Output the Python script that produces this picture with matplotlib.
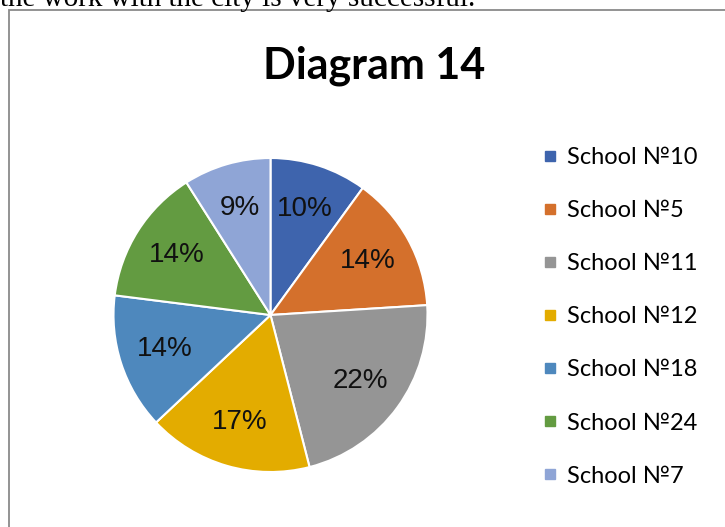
"""
Diagram 14 - pie chart of schools
"""

import matplotlib.pyplot as plt
from matplotlib.lines import Line2D
from matplotlib.patches import Rectangle

# data
schools = ["School №10", "School №5", "School №11", "School №12",
           "School №18", "School №24", "School №7"]
shares = [10, 14, 22, 17, 14, 14, 9]
colors = ["#3E64AD", "#D4702C", "#959595", "#E3AC00",
          "#4E88BD", "#639B41", "#8FA5D6"]

W, H = 725, 527
fig = plt.figure(figsize=(W / 100, H / 100), dpi=100)

# text of the page above the chart, cut off
fig.text(0, 1 - 6 / H, "the work with the city is very successful.",
         family="Liberation Serif", fontsize=21, va="baseline", ha="left")

# frame of the chart (runs off the picture right and bottom)
fig.add_artist(Rectangle((9 / W, -0.1), 1.0, 1 - 9.5 / H + 0.1,
                         transform=fig.transFigure, fill=False,
                         edgecolor="#8a8a8a", linewidth=1.3))

fig.text(374 / W, 1 - 66 / H, "Diagram 14", family=["Lato", "DejaVu Sans"],
         fontweight="bold", fontsize=31, ha="center", va="center")

# pie
cx, cy, r = 270.5, 315, 157
ax = fig.add_axes([(cx - r) / W, (H - cy - r) / H, 2 * r / W, 2 * r / H])
ax.pie(shares, colors=colors, startangle=90, counterclock=False, radius=1,
       labels=None, autopct=lambda p: "%d%%" % round(p), pctdistance=0.71,
       wedgeprops=dict(edgecolor="white", linewidth=1.5),
       textprops=dict(family="Liberation Sans", fontsize=20, color="#111111"))
ax.set_xlim(-1, 1)
ax.set_ylim(-1, 1)
ax.axis("off")

# legend
handles = [Line2D([], [], linestyle="none", marker="s", markersize=7.5,
                  markerfacecolor=c, markeredgecolor=c) for c in colors]
fig.legend(handles, schools, loc="upper left",
           bbox_to_anchor=(543 / W, 1 - 147 / H), frameon=False,
           prop=dict(family=["Lato", "DejaVu Sans"], size=17),
           handlelength=0.6, handletextpad=0.4, labelspacing=1.36,
           borderpad=0, borderaxespad=0)

fig.savefig("out.png", dpi=100)
